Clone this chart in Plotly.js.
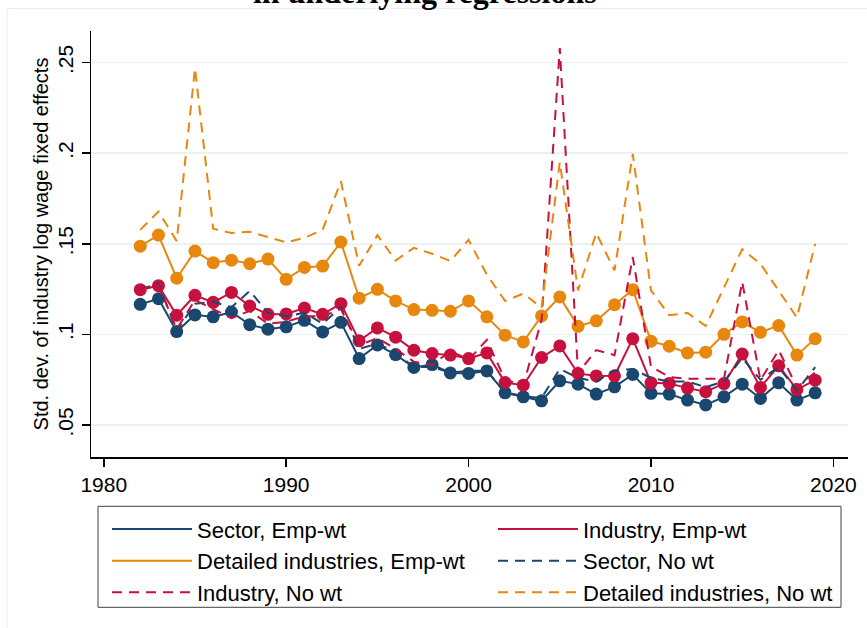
<!DOCTYPE html>
<html>
<head>
<meta charset="utf-8">
<script src="https://cdn.plot.ly/plotly-3.0.1.min.js"></script>
<style>html,body{margin:0;padding:0;background:#fff;}#chart{width:867px;height:628px;}</style>
</head>
<body>
<div id="chart"></div>
<script>
const years = [1982,1983,1984,1985,1986,1987,1988,1989,1990,1991,1992,1993,1994,1995,1996,1997,1998,1999,2000,
               2001,2002,2003,2004,2005,2006,2007,2008,2009,2010,2011,2012,2013,2014,2015,2016,2017,2018,2019];

const sectorEmp = [0.1166,0.1197,0.1016,0.1108,0.1097,0.1124,0.1054,0.1029,0.1042,0.1078,0.1014,0.1067,0.0867,0.0942,0.0889,0.0818,0.0834,0.0788,0.0785,
                   0.0799,0.0678,0.0656,0.0634,0.0744,0.0726,0.0671,0.0711,0.0779,0.0675,0.0671,0.0638,0.0611,0.0656,0.0726,0.0647,0.0733,0.0638,0.0678];
const industryEmp = [0.1247,0.1269,0.1106,0.1216,0.1177,0.1232,0.1157,0.1111,0.1113,0.1146,0.1111,0.1170,0.0965,0.1036,0.0985,0.0913,0.0895,0.0886,0.0867,
                     0.0898,0.0735,0.0720,0.0873,0.0937,0.0785,0.0771,0.0772,0.0977,0.0733,0.0730,0.0704,0.0684,0.0729,0.0892,0.0708,0.0827,0.0696,0.0748];
const detailedEmp = [0.1487,0.1548,0.1310,0.1460,0.1396,0.1410,0.1390,0.1416,0.1304,0.1370,0.1377,0.1510,0.1200,0.1249,0.1185,0.1137,0.1133,0.1128,0.1185,
                     0.1097,0.0996,0.0959,0.1102,0.1207,0.1045,0.1075,0.1164,0.1247,0.0963,0.0935,0.0898,0.0902,0.1001,0.1069,0.1012,0.1049,0.0886,0.0977];
const sectorNo = [0.125,0.128,0.102,0.117,0.118,0.115,0.124,0.112,0.110,0.112,0.106,0.115,0.092,0.095,0.090,0.082,0.082,0.079,0.080,
                  0.080,0.068,0.066,0.065,0.081,0.076,0.074,0.080,0.081,0.076,0.074,0.074,0.071,0.074,0.087,0.075,0.082,0.069,0.082];
const industryNo = [0.125,0.127,0.103,0.119,0.114,0.109,0.113,0.106,0.107,0.110,0.110,0.114,0.094,0.098,0.092,0.085,0.083,0.091,0.086,
                    0.097,0.075,0.072,0.108,0.258,0.0787,0.0914,0.0886,0.1427,0.0822,0.0766,0.0755,0.0755,0.0755,0.129,0.0748,0.0913,0.071,0.079];
const detailedNo = [0.1577,0.1678,0.1515,0.2469,0.1583,0.1560,0.1567,0.1537,0.1508,0.1533,0.1577,0.1845,0.1379,0.1548,0.1408,0.1478,0.1445,0.1405,0.1522,
                    0.1330,0.1185,0.1225,0.1148,0.1950,0.1243,0.1560,0.1353,0.1996,0.1243,0.1106,0.1119,0.1047,0.1260,0.1470,0.1390,0.1243,0.1093,0.1500];

const yTickVals = [0.05,0.1,0.15,0.2,0.25];
const yTickText = ['.05','.1','.15','.2','.25'];
const xTickVals = [1980,1990,2000,2010,2020];

const NAVY = '#1a476f', RED = '#c8103e', ORANGE = '#e8870e';
const DASH = '10px,7px';

function lineTrace(y, name, color, dash, leg) {
  return {x: years, y: y, name: name, type: 'scatter', mode: 'lines', legend: leg,
          line: {color: color, width: 2, dash: dash || 'solid'}, hoverinfo: 'skip'};
}
function markerTrace(y, color) {
  return {x: years, y: y, type: 'scatter', mode: 'markers', showlegend: false,
          marker: {color: color, size: 13, line: {width: 0}}, hoverinfo: 'skip'};
}
const data = [
  lineTrace(sectorEmp, 'Sector, Emp-wt', NAVY, null, 'legend'), markerTrace(sectorEmp, NAVY),
  lineTrace(industryEmp, 'Industry, Emp-wt', RED, null, 'legend2'), markerTrace(industryEmp, RED),
  lineTrace(detailedEmp, 'Detailed industries, Emp-wt', ORANGE, null, 'legend'), markerTrace(detailedEmp, ORANGE),
  lineTrace(sectorNo, 'Sector, No wt', NAVY, DASH, 'legend2'),
  lineTrace(industryNo, 'Industry, No wt', RED, DASH, 'legend'),
  lineTrace(detailedNo, 'Detailed industries, No wt', ORANGE, DASH, 'legend2')
];

const legendBase = {orientation: 'v', yanchor: 'top', xanchor: 'left', y: -0.1204,
                    bgcolor: 'rgba(0,0,0,0)', borderwidth: 0, font: {size: 22},
                    itemwidth: 80, traceorder: 'normal', tracegroupgap: 0};

const layout = {
  width: 867, height: 628,
  margin: {l: 91, r: 19, t: 31, b: 171},
  paper_bgcolor: '#ffffff', plot_bgcolor: '#ffffff',
  font: {family: 'Liberation Sans, Arial, sans-serif', color: '#000', size: 21},
  title: {text: '<b>in underlying regressions</b>', x: 0.49, xref: 'container', xanchor: 'center',
          y: 1 - 3/628, yref: 'container', yanchor: 'bottom',
          font: {family: 'Liberation Serif, Times New Roman, serif', size: 32, color: '#000'}},
  xaxis: {range: [1979.3, 2020.8], tickvals: xTickVals, ticks: 'outside', ticklen: 8, tickwidth: 1.5,
          tickcolor: '#000', showline: true, linecolor: '#000', linewidth: 1.5, showgrid: false,
          zeroline: false, tickfont: {size: 21}},
  yaxis: {range: [0.0324, 0.2674], tickvals: yTickVals, ticktext: yTickText, tickangle: -90,
          ticks: 'outside', ticklen: 8, tickwidth: 1.5, tickcolor: '#000', showline: true,
          linecolor: '#000', linewidth: 1.5, showgrid: true, gridcolor: '#eaf2f3', gridwidth: 1.5,
          zeroline: false, tickfont: {size: 21},
          title: {text: 'Std. dev. of industry log wage fixed effects', font: {size: 20}, standoff: 0}},
  legend: Object.assign({}, legendBase, {x: (107 - 91) / 757}),
  legend2: Object.assign({}, legendBase, {x: (493 - 91) / 757}),
  shapes: [
    {type: 'rect', xref: 'paper', yref: 'paper', x0: -0.111, x1: 1.3, y0: -0.6, y1: 1.053,
     line: {color: '#e8eef2', width: 1}, layer: 'below'},
    {type: 'rect', xref: 'paper', yref: 'paper', x0: (98 - 91) / 757, x1: (841 - 91) / 757,
     y0: (456.7 - 607) / 426, y1: (456.7 - 506) / 426, line: {color: '#404040', width: 1}, layer: 'below'}
  ],
  showlegend: true
};

Plotly.newPlot('chart', data, layout, {displayModeBar: false, staticPlot: true});
</script>
</body>
</html>
